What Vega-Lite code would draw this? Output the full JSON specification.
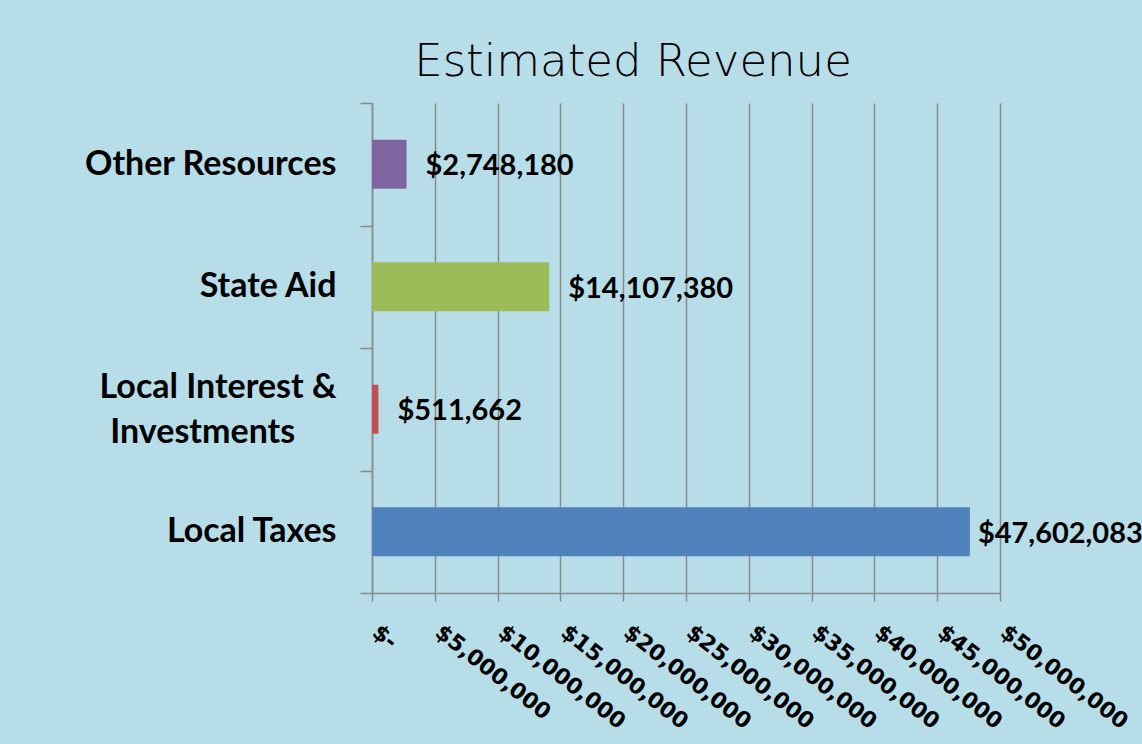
{
  "$schema": "https://vega.github.io/schema/vega-lite/v6.json",
  "autosize": "none",
  "width": 628,
  "height": 490,
  "padding": {"left": 372, "top": 103, "right": 142, "bottom": 151},
  "background": "#b7dde8",
  "title": {
    "text": "Estimated Revenue",
    "font": "DejaVu Sans",
    "fontSize": 45,
    "fontWeight": 300,
    "color": "#000000",
    "anchor": "middle",
    "baseline": "alphabetic",
    "dx": -53,
    "dy": 61,
    "offset": 26
  },
  "config": {"view": {"stroke": null}},
  "data": {
    "values": [
      {"category": "Other Resources", "value": 2748180},
      {"category": "State Aid", "value": 14107380},
      {"category": "Local Interest & Investments", "value": 511662},
      {"category": "Local Taxes", "value": 47602083}
    ]
  },
  "encoding": {
    "y": {
      "field": "category",
      "type": "nominal",
      "sort": ["Other Resources", "State Aid", "Local Interest & Investments", "Local Taxes"],
      "scale": {"paddingInner": 0, "paddingOuter": 0},
      "axis": {
        "title": null,
        "domainColor": "#8a8a8a",
        "domainWidth": 1.5,
        "tickColor": "#8a8a8a",
        "tickWidth": 1.5,
        "tickSize": 12,
        "tickBand": "extent",
        "labelPadding": 24,
        "labelFont": "Lato",
        "labelFontWeight": "bold",
        "labelFontSize": 34,
        "labelColor": "#000000",
        "labelLineHeight": 45,
        "labelLimit": 400,
        "labelOffset": {"condition": {"test": "datum.value == 'Local Interest & Investments'", "value": -22}, "value": 0},
        "labelExpr": "datum.label == 'Local Interest & Investments' ? ['Local Interest &', 'Investments\u00a0\u00a0\u00a0\u00a0\u00a0\u200b'] : datum.label"
      }
    },
    "x": {
      "field": "value",
      "type": "quantitative",
      "scale": {"domain": [0, 50000000], "nice": false},
      "axis": {
        "title": null,
        "values": [0, 5000000, 10000000, 15000000, 20000000, 25000000, 30000000, 35000000, 40000000, 45000000, 50000000],
        "grid": true,
        "gridColor": "#8a8a8a",
        "gridWidth": 1.5,
        "domainColor": "#8a8a8a",
        "domainWidth": 1.5,
        "tickColor": "#8a8a8a",
        "tickWidth": 1.5,
        "tickSize": 8,
        "labelAngle": 38,
        "labelAlign": "left",
        "labelBaseline": "top",
        "labelPadding": 20,
        "labelOffset": 9,
        "labelOverlap": false,
        "labelFont": "DejaVu Sans",
        "labelFontWeight": "bold",
        "labelFontSize": 22,
        "labelColor": "#000000",
        "labelExpr": "datum.value == 0 ? '$-' : format(datum.value, '$,')"
      }
    }
  },
  "layer": [
    {
      "mark": {"type": "bar", "height": {"band": 0.4}},
      "encoding": {
        "color": {
          "field": "category",
          "type": "nominal",
          "scale": {
            "domain": ["Other Resources", "State Aid", "Local Interest & Investments", "Local Taxes"],
            "range": ["#8064a2", "#9bbb59", "#c0504d", "#4f81bd"]
          },
          "legend": null
        }
      }
    },
    {
      "mark": {
        "type": "text",
        "align": "left",
        "baseline": "middle",
        "dx": {"expr": "datum.value > 40000000 ? 8 : 19"},
        "dy": 2,
        "font": "Lato",
        "fontWeight": "bold",
        "fontSize": 29,
        "color": "#000000"
      },
      "encoding": {
        "text": {"field": "value", "type": "quantitative", "format": "$,"}
      }
    }
  ]
}
